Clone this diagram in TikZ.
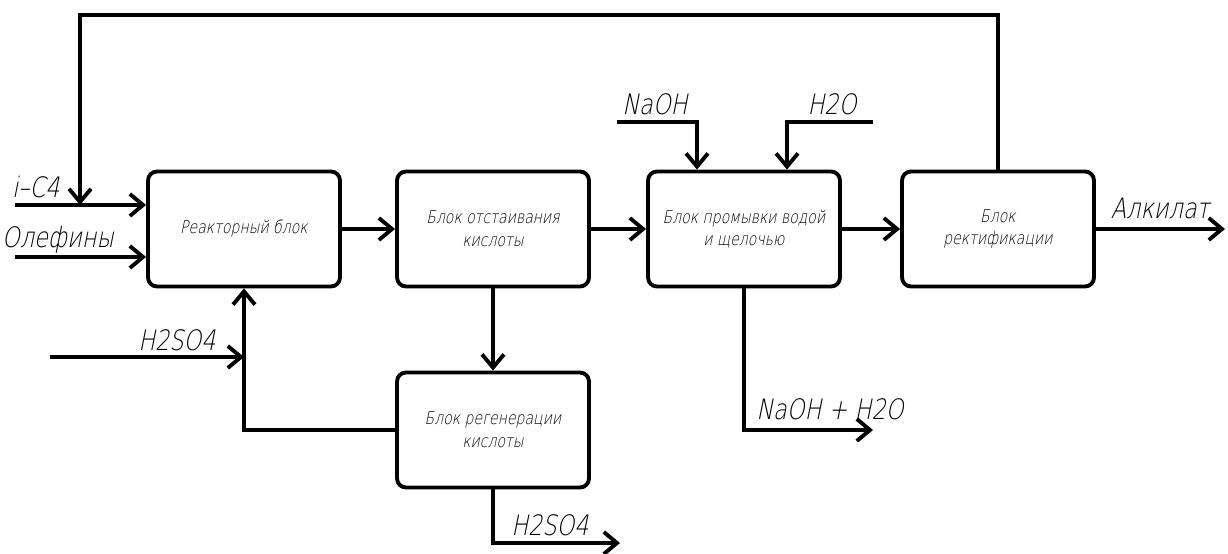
\documentclass[tikz,border=0pt]{standalone}
\usepackage{fontspec}
\newfontfamily\gostfont{DejaVu Sans ExtraLight}[FakeSlant=0.2, FakeStretch=0.8]
\usetikzlibrary{arrows.meta}
\usetikzlibrary{positioning}

\tikzset{
    block/.style={
        rectangle, rounded corners=0.18cm,
        minimum width=3.84cm, minimum height=2.3cm,
        draw=black, line width=2.2pt,
        align=center, font=\gostfont\fontsize{10}{13}\selectfont,
    },
    flow/.style={line width=2.2pt, -{Straight Barb[length=7.5pt, width=12.5pt]}},
    pipe/.style={line width=2.2pt},
    streamlabel/.style={font=\gostfont\fontsize{16}{18}\selectfont, inner sep=1pt},
}

\begin{document}
\begin{tikzpicture}[x=0.02cm, y=-0.02cm]
        \useasboundingbox (0,0) rectangle (1228,554);

        % blocks
        \node (reactor) at (244,229) [block] {Реакторный блок};
        \node (settler) at (493,229) [block] {Блок отстаивания\\кислоты};
        \node (washer) at (744,229) [block] {Блок промывки водой\\и щелочью};
        \node (rectif) at (998,229) [block] {Блок\\ректификации};
        \node (regen) at (493,430) [block] {Блок регенерации\\кислоты};

        % free ends
        \coordinate (ic4) at (15,205);
        \coordinate (olefin) at (15,257);
        \coordinate (recycle) at (80,15);
        \coordinate (acidin) at (50,357);
        \coordinate (acidout) at (620,543);
        \coordinate (wasteout) at (873,430);
        \coordinate (alkout) at (1225,229);
        \coordinate (naoh) at (617,122);
        \coordinate (naohdown) at (697,0);
        \coordinate (water) at (873,122);
        \coordinate (waterdown) at (787,0);

        % main line
        \draw[flow] (ic4) -- (ic4 -| reactor.west);
        \draw[flow] (olefin) -- (olefin -| reactor.west);
        \draw[flow] (reactor.east) -- (settler.west);
        \draw[flow] (settler.east) -- (washer.west);
        \draw[flow] (washer.east) -- (rectif.west);
        \draw[flow] (rectif.east) -- (alkout);

        % recycle of i-C4
        \draw[flow] (rectif.north) |- (recycle) -- (recycle |- ic4);

        % acid loop
        \draw[flow] (settler.south) -- (regen.north);
        \draw[flow] (regen.west) -| (reactor.south);
        \draw[flow] (acidin) -- (acidin -| reactor.south);
        \draw[flow] (regen.south) |- (acidout);

        % washing
        \draw[flow] (naoh) -| (naohdown |- washer.north);
        \draw[flow] (water) -| (waterdown |- washer.north);
        \draw[flow] (washer.south) |- (wasteout);

        % labels
        \node at (36,187) [streamlabel] {i–C4};
        \node at (58,240) [streamlabel] {Олефины};
        \node at (177,340) [streamlabel] {H2SO4};
        \node at (550,525) [streamlabel] {H2SO4};
        \node at (830,409) [streamlabel] {NaOH + H2O};
        \node at (655,104) [streamlabel] {NaOH};
        \node at (832,104) [streamlabel] {H2O};
        \node at (1160,208) [streamlabel] {Алкилат};
    \end{tikzpicture}
\end{document}
